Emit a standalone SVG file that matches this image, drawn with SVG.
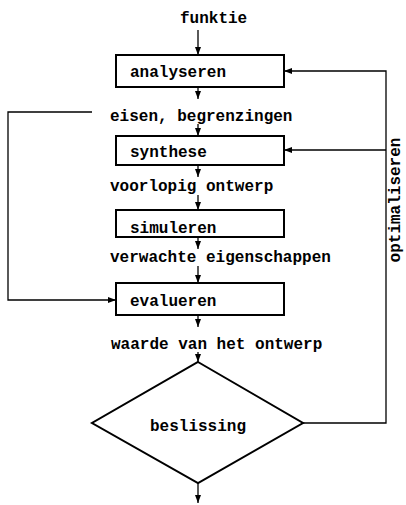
<svg xmlns="http://www.w3.org/2000/svg" width="406" height="505" viewBox="0 0 406 505">
<style>
.box{fill:#fff;stroke:#000;stroke-width:2}
.ln{fill:none;stroke:#000;stroke-width:1.3}
text{font-family:"Liberation Mono","DejaVu Sans Mono",monospace;font-size:16px;font-weight:bold;fill:#000}
</style>
<defs>
<marker id="ah" viewBox="0 0 8 8" refX="8" refY="4" markerWidth="8" markerHeight="8" markerUnits="userSpaceOnUse" orient="auto">
<path d="M0,1 L8,4 L0,7 Z" fill="#000"/>
</marker>
</defs>
<rect width="406" height="505" fill="#fff"/>
<g id="connectors">
<line class="ln" x1="198" y1="30" x2="198" y2="55" marker-end="url(#ah)"/>
<line class="ln" x1="198" y1="87" x2="198" y2="99" marker-end="url(#ah)"/>
<line class="ln" x1="198" y1="124" x2="198" y2="136" marker-end="url(#ah)"/>
<line class="ln" x1="198" y1="165" x2="198" y2="177" marker-end="url(#ah)"/>
<line class="ln" x1="198" y1="195" x2="198" y2="210" marker-end="url(#ah)"/>
<line class="ln" x1="198" y1="237" x2="198" y2="249" marker-end="url(#ah)"/>
<line class="ln" x1="198" y1="266" x2="198" y2="283" marker-end="url(#ah)"/>
<line class="ln" x1="198" y1="315" x2="198" y2="327" marker-end="url(#ah)"/>
<line class="ln" x1="198" y1="352" x2="198" y2="362" marker-end="url(#ah)"/>
<line class="ln" x1="198" y1="483" x2="198" y2="503" stroke-width="2" marker-end="url(#ah)"/>
<polyline class="ln" points="303,423 386,423 386,71 284,71" marker-end="url(#ah)"/>
<line class="ln" x1="386" y1="150" x2="284" y2="150" marker-end="url(#ah)"/>
<polyline class="ln" points="92,112 8,112 8,300 116,300" marker-end="url(#ah)"/>
</g>
<text x="180" y="23">funktie</text>
<g id="analyseren"><rect class="box" x="116" y="55" width="168" height="32"/><text x="130" y="77">analyseren</text></g>
<text x="110" y="121">eisen, begrenzingen</text>
<g id="synthese"><rect class="box" x="116" y="136" width="168" height="29"/><text x="130" y="157">synthese</text></g>
<text x="110" y="191">voorlopig ontwerp</text>
<g id="simuleren"><rect class="box" x="116" y="210" width="168" height="27"/><text x="130" y="233">simuleren</text></g>
<text x="110" y="262">verwachte eigenschappen</text>
<g id="evalueren"><rect class="box" x="116" y="283" width="168" height="32"/><text x="130" y="306">evalueren</text></g>
<text x="111" y="349">waarde van het ontwerp</text>
<g id="beslissing"><polygon class="box" points="198,362 303,423 198,483 92,423"/><text x="150" y="431">beslissing</text></g>
<text transform="translate(400,200) rotate(-90)" text-anchor="middle">optimaliseren</text>
</svg>
